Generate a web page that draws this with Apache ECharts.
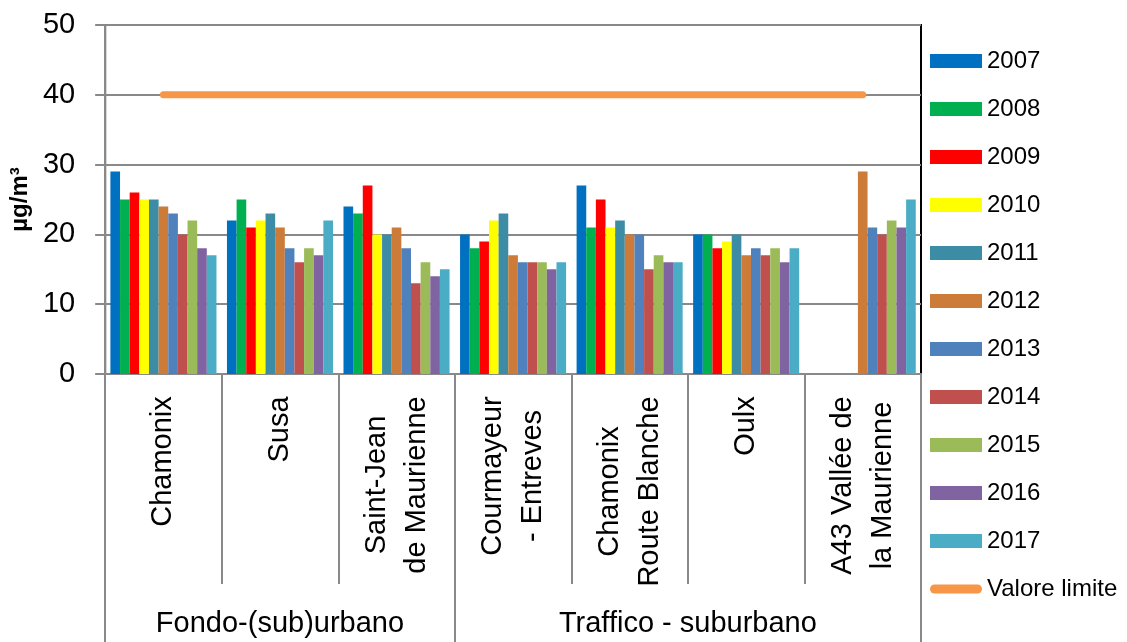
<!DOCTYPE html>
<html style="height: 100%">
<head>
    <meta charset="utf-8">
    <script src="https://cdn.jsdelivr.net/npm/echarts@6/dist/echarts.min.js"></script>
</head>
<body style="height: 100%; width: 100%; margin: 0; background-color: #ffffff;">

    <div id="container" style="width: 1127px; height: 642px;"></div>

    <script type="text/javascript">

        // stations (categories), two-line labels use \n
        var stations = ['Chamonix', 'Susa', 'Saint-Jean\nde Maurienne', 'Courmayeur\n- Entreves',
            'Chamonix\nRoute Blanche', 'Oulx', 'A43 Vallée de\nla Maurienne'];
        // site type groups and how many stations each covers
        var groupNames = ['Fondo-(sub)urbano', 'Traffico - suburbano'];
        var groupSpans = [3, 4];

        var years = ['2007', '2008', '2009', '2010', '2011', '2012', '2013', '2014', '2015', '2016', '2017'];

        // yearly mean per station, one array per station
        var chamonix = [29, 25, 26, 25, 25, 24, 23, 20, 22, 18, 17];
        var susa = [22, 25, 21, 22, 23, 21, 18, 16, 18, 17, 22];
        var saintJean = [24, 23, 27, 20, 20, 21, 18, 13, 16, 14, 15];
        var courmayeur = [20, 18, 19, 22, 23, 17, 16, 16, 16, 15, 16];
        var chamonixRB = [27, 21, 25, 21, 22, 20, 20, 15, 17, 16, 16];
        var oulx = [20, 20, 18, 19, 20, 17, 18, 17, 18, 16, 18];
        var a43 = [null, null, null, null, null, 29, 21, 20, 22, 21, 25];

        var limitName = 'Valore limite';
        var limitValue = [40, 40, 40, 40, 40, 40, 40];

        var yTicks = [0, 10, 20, 30, 40, 50];

        var colors = ['#0070C0', '#00B050', '#FF0000', '#FFFF00', '#3D8CA6', '#CC7B38',
            '#4F81BD', '#C0504D', '#9BBB59', '#8064A2', '#4BACC6'];
        var limitColor = '#F79646';

        var stationRows = [chamonix, susa, saintJean, courmayeur, chamonixRB, oulx, a43];

        var fontFamily = '"Liberation Sans", Arial, sans-serif';
        var axisFont = 29;
        var gridColor = '#898989';

        // measure label lines so that multi-line labels are centred line by line
        var cv = document.createElement('canvas').getContext('2d');
        cv.font = axisFont + 'px "Liberation Sans"';
        var rich = {};
        stations.forEach(function (s, i) {
            var w = 0;
            s.split('\n').forEach(function (l) { w = Math.max(w, cv.measureText(l).width); });
            rich['c' + i] = {
                width: Math.ceil(w) + 2, align: 'center', fontSize: axisFont,
                lineHeight: 40, fontFamily: fontFamily, color: '#000'
            };
        });

        // second axis: half-station slots, boundaryGap false
        var groupAxis = [];
        var groupTicks = [0];
        var pos = 0;
        for (var g = 0; g < groupSpans.length; g++) pos += groupSpans[g] * 2;
        for (var k = 0; k <= pos; k++) groupAxis.push('');
        pos = 0;
        for (var g = 0; g < groupSpans.length; g++) {
            groupAxis[pos + groupSpans[g]] = groupNames[g];
            pos += groupSpans[g] * 2;
            groupTicks.push(pos);
        }

        var series = years.map(function (y, j) {
            return {
                name: y,
                type: 'bar',
                barGap: '0%',
                barCategoryGap: '9%',
                itemStyle: { color: colors[j] },
                data: stationRows.map(function (r) { return r[j]; })
            };
        });
        series.push({
            name: limitName,
            type: 'line',
            symbol: 'none',
            z: 5,
            lineStyle: { color: limitColor, width: 7, cap: 'round' },
            itemStyle: { color: limitColor },
            data: limitValue
        });

        var dom = document.getElementById('container');
        var myChart = echarts.init(dom);

        var option = {
            animation: false,
            textStyle: { fontFamily: fontFamily },
            color: colors.concat([limitColor]),
            grid: {
                left: 105, right: 206, top: 25, bottom: 268,
                show: true, borderColor: '#000', borderWidth: 2
            },
            legend: {
                orient: 'vertical',
                left: 930,
                top: 49,
                padding: 0,
                itemWidth: 52,
                itemHeight: 14,
                itemGap: 24,
                textStyle: { fontSize: 24, lineHeight: 24, color: '#000', fontFamily: fontFamily },
                data: years.map(function (y) { return { name: y, icon: 'rect' }; }).concat([{
                    name: limitName,
                    // thick round-capped line, padded to the 52x14 icon box
                    icon: 'path://M0,0M52,14M4.5,2.5L47.5,2.5A4.5,4.5,0,0,1,47.5,11.5L4.5,11.5A4.5,4.5,0,0,1,4.5,2.5Z',
                    itemStyle: { color: limitColor }
                }])
            },
            xAxis: [
                {
                    type: 'category',
                    data: stations,
                    axisLine: { lineStyle: { color: gridColor, width: 2 } },
                    axisTick: { show: true, length: 210, interval: 0, lineStyle: { color: gridColor, width: 2 } },
                    axisLabel: {
                        interval: 0, rotate: 90, margin: 21,
                        formatter: function (v, i) {
                            return v.split('\n').map(function (l) { return '{c' + i + '|' + l + '}'; }).join('\n');
                        },
                        rich: rich
                    }
                },
                {
                    type: 'category',
                    position: 'bottom',
                    offset: 210,
                    boundaryGap: false,
                    data: groupAxis,
                    axisLine: { show: false },
                    axisTick: {
                        show: true, length: 60, alignWithLabel: true,
                        interval: function (i) { return groupTicks.indexOf(i) >= 0; },
                        lineStyle: { color: gridColor, width: 2 }
                    },
                    axisLabel: {
                        interval: 0, margin: 25, fontSize: axisFont, color: '#000', fontFamily: fontFamily
                    }
                }
            ],
            yAxis: {
                type: 'value',
                min: yTicks[0],
                max: yTicks[yTicks.length - 1],
                interval: yTicks[1] - yTicks[0],
                name: 'µg/m³',
                nameLocation: 'middle',
                nameGap: 62,
                nameTextStyle: { fontSize: 24, fontWeight: 'bold', color: '#000', fontFamily: fontFamily },
                axisLine: { show: true, lineStyle: { color: gridColor, width: 2 } },
                axisTick: { show: true, length: 10, lineStyle: { color: gridColor, width: 2 } },
                axisLabel: { fontSize: axisFont, color: '#000', margin: 30, fontFamily: fontFamily },
                splitLine: { lineStyle: { color: gridColor, width: 2 } }
            },
            series: series
        };

        myChart.setOption(option, true);

    </script>
</body>
</html>
